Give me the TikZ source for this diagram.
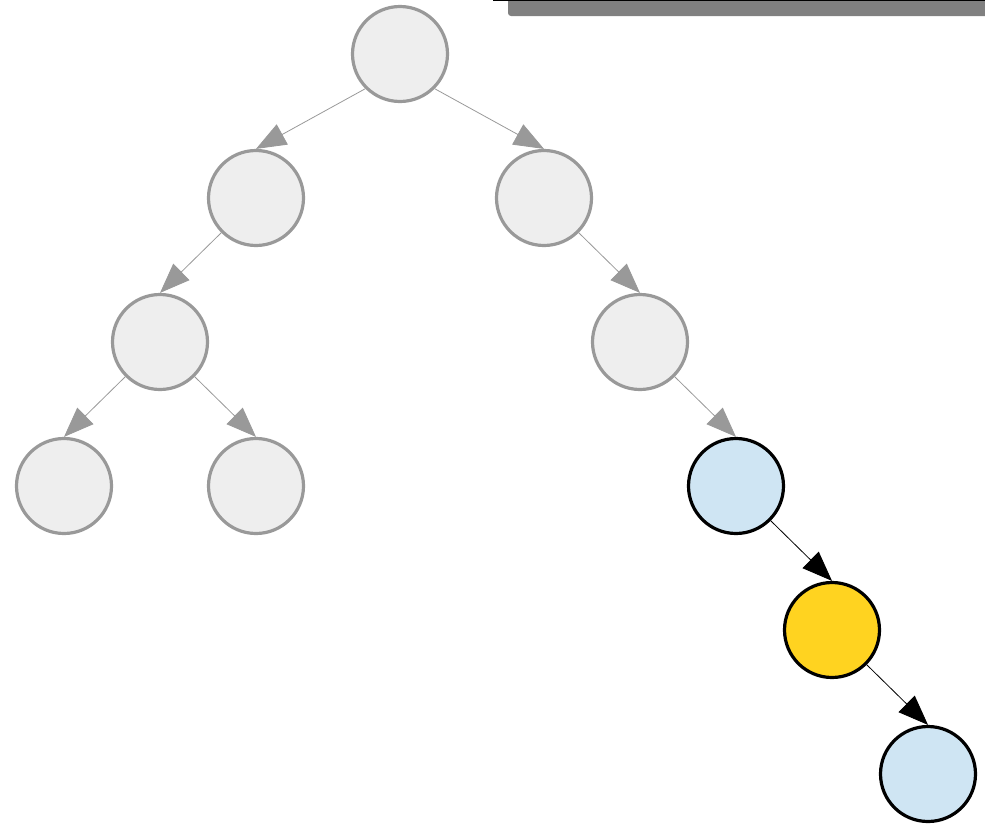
\documentclass[tikz,border=0pt]{standalone}
\usetikzlibrary{arrows.meta}
\definecolor{ngray}{HTML}{EEEEEE}
\definecolor{sgray}{HTML}{999999}
\definecolor{nblue}{HTML}{CFE5F3}
\definecolor{nyellow}{HTML}{FFD320}
\definecolor{bargray}{HTML}{808080}
\begin{document}
\begin{tikzpicture}[x=1pt,y=-1pt,
  dim/.style={circle,draw=sgray,fill=ngray,line width=3.2pt,minimum size=95pt,inner sep=0pt},
  hib/.style={circle,draw=black,fill=nblue,line width=3.2pt,minimum size=95pt,inner sep=0pt},
  hiy/.style={circle,draw=black,fill=nyellow,line width=3.2pt,minimum size=95pt,inner sep=0pt},
  dimedge/.style={draw=sgray,line width=0.8pt,-{Triangle[length=30pt,width=23pt,fill=sgray]}},
  hiedge/.style={draw=black,line width=0.8pt,-{Triangle[length=30pt,width=23pt,fill=black]}}]
\useasboundingbox (0,0) rectangle (985,825);
% top bar (cut off)
\begin{scope}
\clip (0,0) rectangle (985,825);
\fill[bargray,rounded corners=3pt] (508,-20) rectangle (1000,16);
\draw[black,line width=2.5pt] (493,0) -- (1000,0);
\end{scope}
% nodes
\node[dim] (r) at (400,54) {};
\node[dim] (a) at (256,198) {};
\node[dim] (b) at (544,198) {};
\node[dim] (c) at (160,342) {};
\node[dim] (d) at (640,342) {};
\node[dim] (e) at (64,486) {};
\node[dim] (f) at (256,486) {};
\node[hib] (g) at (736,486) {};
\node[hiy] (h) at (832,630) {};
\node[hib] (i) at (928,774) {};
% edges
\draw[dimedge] (r.south west) -- (a.north);
\draw[dimedge] (r.south east) -- (b.north);
\draw[dimedge] (a.south west) -- (c.north);
\draw[dimedge] (b.south east) -- (d.north);
\draw[dimedge] (c.south west) -- (e.north);
\draw[dimedge] (c.south east) -- (f.north);
\draw[dimedge] (d.south east) -- (g.north);
\draw[hiedge] (g.south east) -- (h.north);
\draw[hiedge] (h.south east) -- (i.north);
\end{tikzpicture}
\end{document}
